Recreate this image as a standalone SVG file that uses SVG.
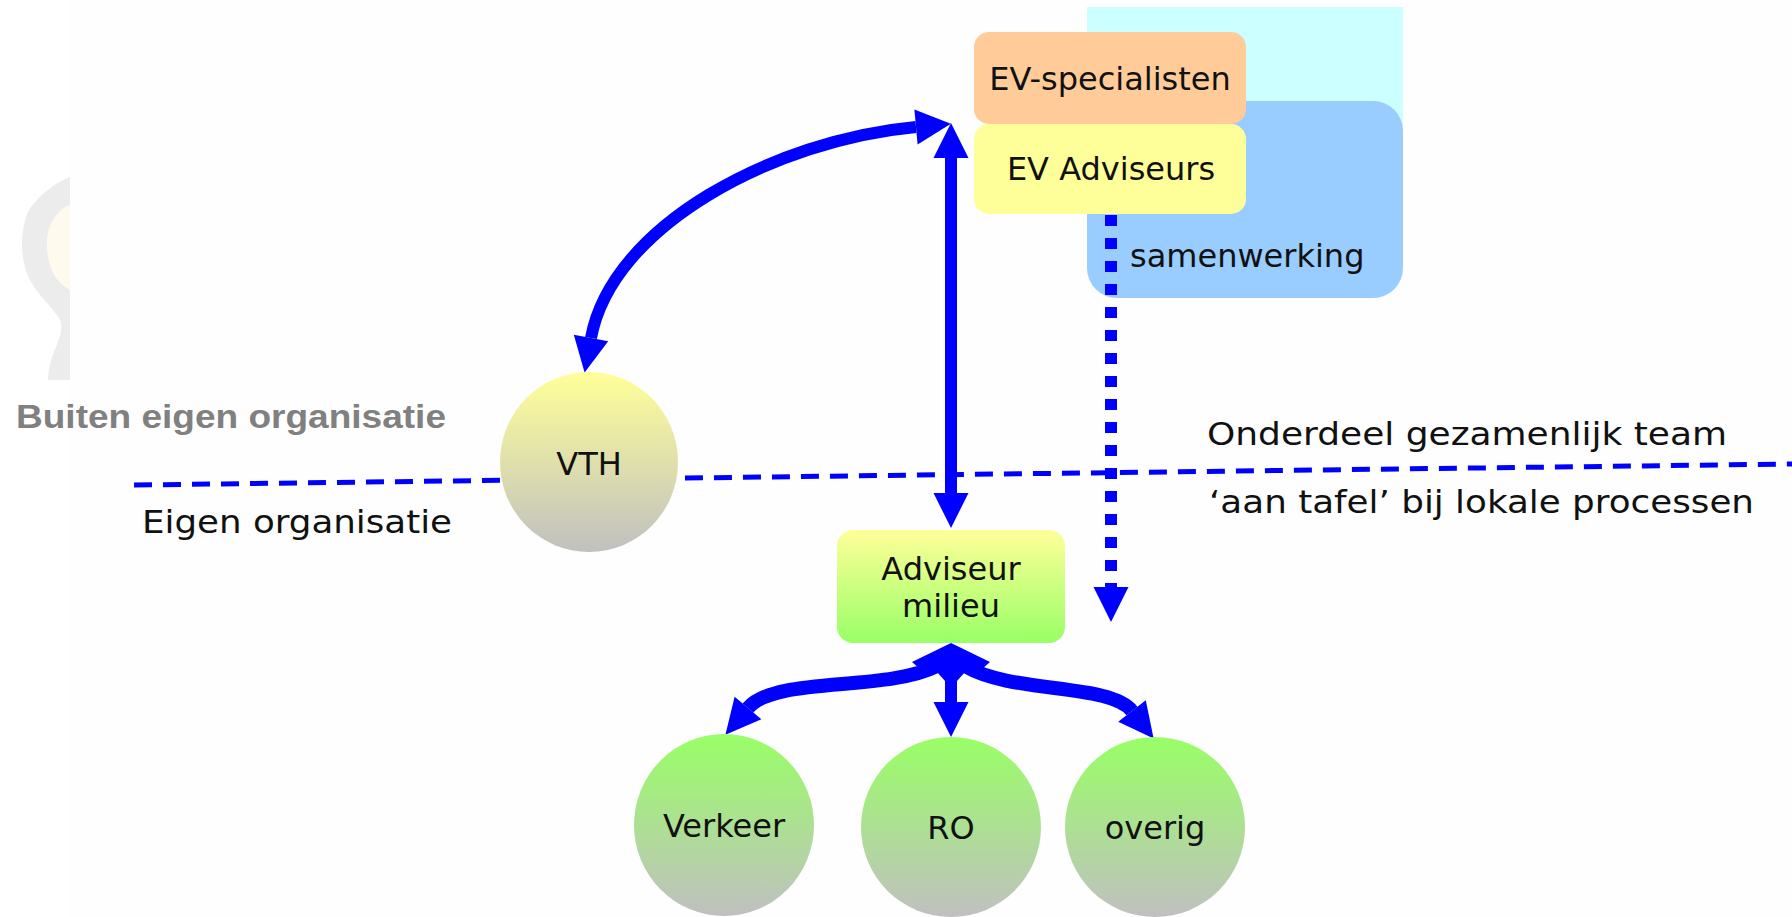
<svg xmlns="http://www.w3.org/2000/svg" width="1792" height="917" viewBox="0 0 1792 917">
<defs>
<style>
.lbl{font-family:"DejaVu Sans",Verdana,sans-serif;font-size:32px;fill:#111;}
.side{font-family:"DejaVu Sans",Verdana,sans-serif;font-size:32px;fill:#111;}
.bold{font-family:"Liberation Sans",Arial,sans-serif;font-weight:bold;font-size:33px;fill:#808080;}
.conn{fill:none;stroke:#0000ff;stroke-width:12;}
.fan{fill:none;stroke:#0000ff;stroke-width:14;}
</style>
<linearGradient id="gYG" x1="0" y1="0" x2="0" y2="1">
<stop offset="0" stop-color="#ffff99"/><stop offset="1" stop-color="#c0c0c0"/>
</linearGradient>
<linearGradient id="gGG" x1="0" y1="0" x2="0" y2="1">
<stop offset="0" stop-color="#99ff66"/><stop offset="1" stop-color="#c0c0c0"/>
</linearGradient>
<linearGradient id="gYGr" x1="0" y1="0" x2="0" y2="1">
<stop offset="0" stop-color="#ffff99"/><stop offset="1" stop-color="#99ff66"/>
</linearGradient>
<marker id="ah" markerUnits="userSpaceOnUse" markerWidth="36" markerHeight="36" refX="0" refY="17.5" orient="auto-start-reverse" overflow="visible">
<path d="M0,0 L35,17.5 L0,35 Z" fill="#0000ff" stroke="none"/>
</marker>
</defs>
<rect x="0" y="0" width="1792" height="917" fill="#fefefe"/>
<rect x="0" y="0" width="70" height="917" fill="#ffffff"/>
<g id="logo">
<path d="M70,177 C55,183 38,195 28,212 C20,230 20,258 28,276 C36,294 52,306 60,320 C64,330 58,342 54,352 C50,362 48,372 48,380 L70,380 Z" fill="#ececec"/>
<path d="M70,205 C60,208 52,218 48,232 C45,248 48,266 56,278 C61,284 66,288 70,290 Z" fill="#fffaee"/>
</g>
<g id="groups">
<rect id="cyan-area" x="1087" y="7" width="316" height="150" fill="#ccffff"/>
<rect id="samenwerking" x="1087" y="101" width="316" height="197" rx="30" fill="#99ccff"/>
<text class="lbl" x="1130" y="267">samenwerking</text>
</g>
<g id="divider">
<line x1="134" y1="485" x2="1792" y2="464" stroke="#0000ff" stroke-width="5" stroke-dasharray="18 11"/>
<text class="bold" x="16" y="428" textLength="430" lengthAdjust="spacingAndGlyphs">Buiten eigen organisatie</text>
<text class="side" x="142" y="533" textLength="310" lengthAdjust="spacingAndGlyphs">Eigen organisatie</text>
<text class="side" x="1207" y="445" textLength="520" lengthAdjust="spacingAndGlyphs">Onderdeel gezamenlijk team</text>
<text class="side" x="1209" y="513" textLength="545" lengthAdjust="spacingAndGlyphs">‘aan tafel’ bij lokale processen</text>
</g>
<g id="connectors">
<path class="conn" d="M591,338 C612,225 775,140 916,127" marker-start="url(#ah)" marker-end="url(#ah)"/>
<path class="conn" d="M951,158 L951,493" marker-start="url(#ah)" marker-end="url(#ah)"/>
<path class="conn" d="M1111,215 L1111,587" stroke-dasharray="11 12" marker-end="url(#ah)"/>
<path class="fan" d="M937,666 C885,692 775,676 748,708" marker-end="url(#ah)"/>
<path class="fan" d="M965,666 C1012,694 1110,683 1132,711" marker-end="url(#ah)"/>
<path class="conn" d="M951,672 L951,702" marker-end="url(#ah)"/>
<polygon points="951,643 912,662 920,669 937,672 945,681 957,681 965,672 982,669 990,662" fill="#0000ff"/>
</g>
<g id="ev-specialisten">
<rect x="974" y="32" width="272" height="92" rx="15" fill="#ffcc99"/>
<text class="lbl" x="1110" y="90" text-anchor="middle">EV-specialisten</text>
</g>
<g id="ev-adviseurs">
<rect x="974" y="124" width="272" height="90" rx="15" fill="#ffff99"/>
<text class="lbl" x="1111" y="180" text-anchor="middle">EV Adviseurs</text>
</g>
<g id="vth">
<ellipse cx="589" cy="462" rx="89" ry="90" fill="url(#gYG)"/>
<text class="lbl" x="589" y="475" text-anchor="middle">VTH</text>
</g>
<g id="adviseur-milieu">
<rect x="837" y="530" width="228" height="113" rx="16" fill="url(#gYGr)"/>
<text class="lbl" x="951" y="580" text-anchor="middle">Adviseur</text>
<text class="lbl" x="951" y="617" text-anchor="middle">milieu</text>
</g>
<g id="verkeer">
<ellipse cx="724" cy="825" rx="90" ry="91" fill="url(#gGG)"/>
<text class="lbl" x="724" y="837" text-anchor="middle">Verkeer</text>
</g>
<g id="ro">
<ellipse cx="951" cy="827" rx="90" ry="90" fill="url(#gGG)"/>
<text class="lbl" x="951" y="839" text-anchor="middle">RO</text>
</g>
<g id="overig">
<ellipse cx="1155" cy="827" rx="90" ry="90" fill="url(#gGG)"/>
<text class="lbl" x="1155" y="839" text-anchor="middle">overig</text>
</g>
</svg>
